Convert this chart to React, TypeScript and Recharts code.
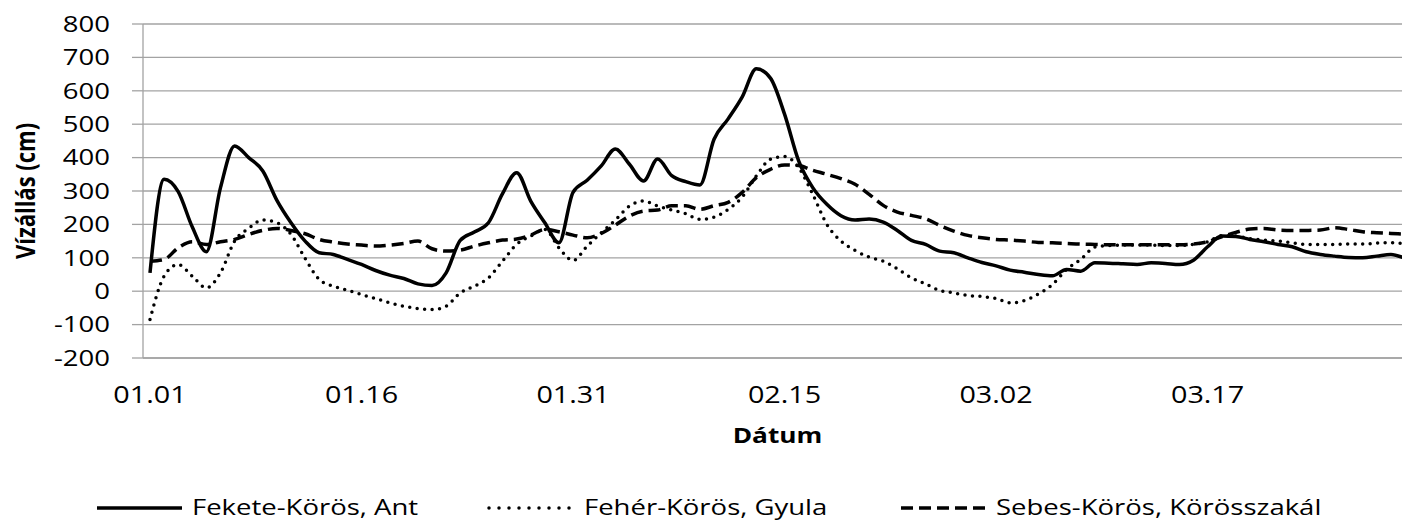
import { LineChart, Line, XAxis, YAxis, CartesianGrid } from 'recharts';

// day labels 01.01 .. 03.31 (non-leap year)
const months: [string, number][] = [['01', 31], ['02', 28], ['03', 31]];
const dates: string[] = months.flatMap(([m, n]) =>
  Array.from({ length: n }, (_, d) => `${m}.${String(d + 1).padStart(2, '0')}`)
);

// Fekete-Körös, Ant
const fekete = [
  55, 335, 298, 192, 118, 310, 435, 400, 360, 272,
  205, 150, 115, 110, 95, 80, 62, 48, 38, 22,
  17, 55, 152, 177, 205, 292, 355, 270, 205, 145,
  296, 332, 375, 426, 380, 330, 396, 346, 328, 318,
  455, 516, 582, 666, 638, 530, 390, 310, 260, 226,
  213, 216, 207, 182, 152, 140, 120, 115, 100, 86,
  76, 63, 57, 50, 46, 65, 60, 85, 84, 82,
  80, 85, 83, 80, 93, 133, 165, 164, 155, 148,
  140, 133, 118, 110, 105, 101, 100, 105, 110, 98,
];

// Fehér-Körös, Gyula
const feher = [
  -85, 45, 80, 45, 10, 55, 150, 188, 213, 205,
  170, 98, 35, 15, 3, -10, -22, -35, -45, -52,
  -55, -45, -5, 15, 40, 90, 140, 165, 185, 130,
  92, 135, 175, 213, 255, 270, 255, 243, 232, 215,
  222, 245, 282, 345, 395, 403, 370, 290, 200, 150,
  122, 102, 90, 67, 40, 22, 2, -5, -13, -16,
  -22, -35, -28, -8, 20, 65, 95, 132, 137, 138,
  138, 138, 137, 137, 140, 148, 166, 165, 157, 153,
  150, 145, 140, 140, 140, 141, 141, 144, 145, 142,
];

// Sebes-Körös, Körösszakál
const sebes = [
  90, 95, 130, 148, 140, 148, 155, 170, 182, 188,
  182, 172, 155, 147, 141, 138, 135, 138, 143, 150,
  127, 120, 123, 135, 145, 153, 156, 168, 185, 178,
  168, 160, 173, 198, 225, 240, 243, 256, 256, 245,
  256, 266, 296, 340, 365, 378, 376, 362, 350, 337,
  320, 290, 257, 237, 227, 217, 197, 180, 167, 160,
  155, 153, 150, 146, 145, 143, 141, 140, 139, 139,
  139, 139, 139, 139, 141, 148, 163, 176, 186, 188,
  183, 182, 182, 183, 190, 185, 178, 175, 173, 171,
];

const yTicks = [-200, -100, 0, 100, 200, 300, 400, 500, 600, 700, 800];

const series = [
  { key: 'fekete', name: 'Fekete-Körös, Ant', dash: undefined, legendDash: undefined, dotted: false, legendX: 97 },
  { key: 'feher', name: 'Fehér-Körös, Gyula', dash: '0 7.5', legendDash: '0 10', dotted: true, legendX: 489 },
  { key: 'sebes', name: 'Sebes-Körös, Körösszakál', dash: '12 6', legendDash: '12 6', dotted: false, legendX: 901 },
];

const data = dates.map((date, i) => ({
  date,
  fekete: fekete[i],
  feher: feher[i],
  sebes: sebes[i],
}));

const FONT = '"Open Sans", sans-serif';
const SX = 1.25; // the source picture is stretched sideways
const GRID = '#a3a3a3';

function YTick({ x, y, payload }: any) {
  return (
    <text
      transform={`translate(${x},${y}) scale(${SX},1)`}
      textAnchor="end"
      dy="0.357em"
      fontFamily={FONT}
      fontSize={22}
      fill="#000"
    >
      {payload.value}
    </text>
  );
}

function XTick({ x, y, payload }: any) {
  return (
    <text
      transform={`translate(${x},${y + 45}) scale(${SX},1)`}
      textAnchor="middle"
      fontFamily={FONT}
      fontSize={23}
      fill="#000"
    >
      {payload.value}
    </text>
  );
}

const xTitle = (props: any) => {
  const vb = props.viewBox;
  return (
    <text
      transform={`translate(${vb.x + vb.width / 2},${vb.y + 85}) scale(${SX},1)`}
      textAnchor="middle"
      fontFamily={FONT}
      fontWeight="bold"
      fontSize={21}
      fill="#000"
    >
      Dátum
    </text>
  );
};

const yTitle = (props: any) => {
  const vb = props.viewBox;
  return (
    <text
      transform={`translate(35,${vb.y + vb.height / 2}) scale(${SX},1) rotate(-90)`}
      textAnchor="middle"
      fontFamily={FONT}
      fontWeight="bold"
      fontSize={22}
      fill="#000"
    >
      Vízállás (cm)
    </text>
  );
};

function LegendRow() {
  return (
    <svg
      width={1414}
      height={522}
      style={{ position: 'absolute', left: 0, top: 0, pointerEvents: 'none' }}
    >
      {series.map(s => (
        <g key={s.key}>
          <line
            x1={s.legendX}
            x2={s.legendX + 85}
            y1={508}
            y2={508}
            stroke="#000"
            strokeWidth={3.5}
            strokeDasharray={s.legendDash}
            strokeLinecap={s.dotted ? 'round' : 'butt'}
          />
          <text
            transform={`translate(${s.legendX + 95},515) scale(${SX},1)`}
            fontFamily={FONT}
            fontSize={22}
            fill="#000"
          >
            {s.name}
          </text>
        </g>
      ))}
    </svg>
  );
}

export default function App() {
  return (
    <div
      style={{
        position: 'absolute',
        left: 0,
        top: 0,
        width: 1402,
        height: 522,
        overflow: 'hidden',
        background: '#fff',
      }}
    >
      <LineChart
        width={1414}
        height={522}
        data={data}
        margin={{ top: 24, right: 2, bottom: 124, left: 0 }}
      >
        <CartesianGrid vertical={false} stroke={GRID} strokeWidth={1.3} />
        <XAxis
          dataKey="date"
          interval={14}
          height={40}
          padding={{ left: 7, right: 7 }}
          tickLine={false}
          tickSize={0}
          tickMargin={0}
          axisLine={{ stroke: GRID, strokeWidth: 1.3 }}
          tick={<XTick />}
          label={xTitle}
        />
        <YAxis
          domain={[-200, 800]}
          ticks={yTicks}
          width={143}
          tickSize={11}
          tickMargin={22}
          tickLine={{ stroke: GRID, strokeWidth: 1.3 }}
          axisLine={{ stroke: GRID, strokeWidth: 1.3 }}
          tick={<YTick />}
          label={yTitle}
        />
        {series.map(s => (
          <Line
            key={s.key}
            type="monotone"
            dataKey={s.key}
            name={s.name}
            stroke="#000"
            strokeWidth={3.5}
            strokeDasharray={s.dash}
            strokeLinecap={s.dotted ? 'round' : 'butt'}
            dot={false}
            activeDot={false}
            isAnimationActive={false}
          />
        ))}
      </LineChart>
      <LegendRow />
    </div>
  );
}
